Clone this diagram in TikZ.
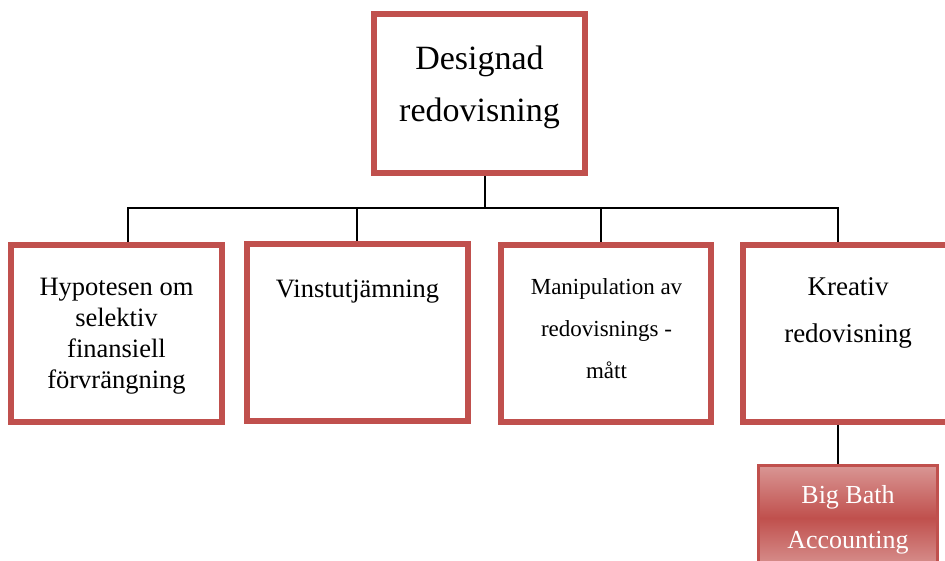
\documentclass[tikz,border=0pt]{standalone}
\usepackage{fontspec}
\setmainfont{Liberation Serif}
\definecolor{accred}{HTML}{C0504D}
\definecolor{lightred}{HTML}{D99694}
\tikzset{
  box/.style={draw=accred, line width=6pt, fill=white, rectangle, inner sep=0pt},
  gradbox/.style={draw=accred, line width=3pt, rectangle, inner sep=0pt,
    top color=lightred, bottom color=lightred, middle color=accred},
  txt/.style={inner sep=0pt, anchor=north, align=center},
  conn/.style={draw=black, line width=1.8pt, miter limit=10}
}
\begin{document}
\begin{tikzpicture}[x=1pt, y=-1pt]
\useasboundingbox (0,0) rectangle (945,560);
\clip (0,0) rectangle (945,560);
% boxes
\node[box, minimum width=211, minimum height=159] (top) at (479.5,93.5) {};
\node[box, minimum width=211, minimum height=177] (box1) at (116.5,333.5) {};
\node[box, minimum width=221, minimum height=177] (box2) at (357.5,332.5) {};
\node[box, minimum width=210, minimum height=177] (box3) at (606,333.5) {};
\node[box, minimum width=210, minimum height=177] (box4) at (848,333) {};
\node[gradbox, minimum width=179, minimum height=105] (bba) at (848,518) {};
% bus coordinates
\coordinate (bt) at (485,208);
\coordinate (b1) at (128,208);
\coordinate (b2) at (357,208);
\coordinate (b3) at (601,208);
\coordinate (b4) at (838,208);
% connectors
\draw[conn] (top.south -| bt) -- (bt);
\draw[conn] (box1.north -| b1) -- (b1) -- (b4) -- (box4.north -| b4);
\draw[conn] (b2) -- (box2.north -| b2);
\draw[conn] (b3) -- (box3.north -| b3);
\draw[conn] (box4.south -| b4) -- (bba.north -| b4);
% texts
\node[txt, font=\fontsize{34}{52}\selectfont] (ttop) at (479.5,32.6) {\strut Designad\\redovisning};
\node[txt, font=\fontsize{26.5}{31}\selectfont] (t1) at (116.5,273.3) {\strut Hypotesen om\\selektiv\\finansiell\\förvrängning};
\node[txt, font=\fontsize{26.5}{31}\selectfont] (t2) at (357.5,275.3) {\strut Vinstutjämning};
\node[txt, font=\fontsize{23}{42}\selectfont] (t3) at (606.5,264.6) {\strut Manipulation av\\redovisnings -\\mått};
\node[txt, font=\fontsize{27}{47}\selectfont] (t4) at (848,262.1) {\strut Kreativ\\redovisning};
\node[txt, font=\fontsize{26}{45}\selectfont, text=white] (t5) at (848,471.5) {\strut Big Bath\\Accounting};
\end{tikzpicture}
\end{document}
